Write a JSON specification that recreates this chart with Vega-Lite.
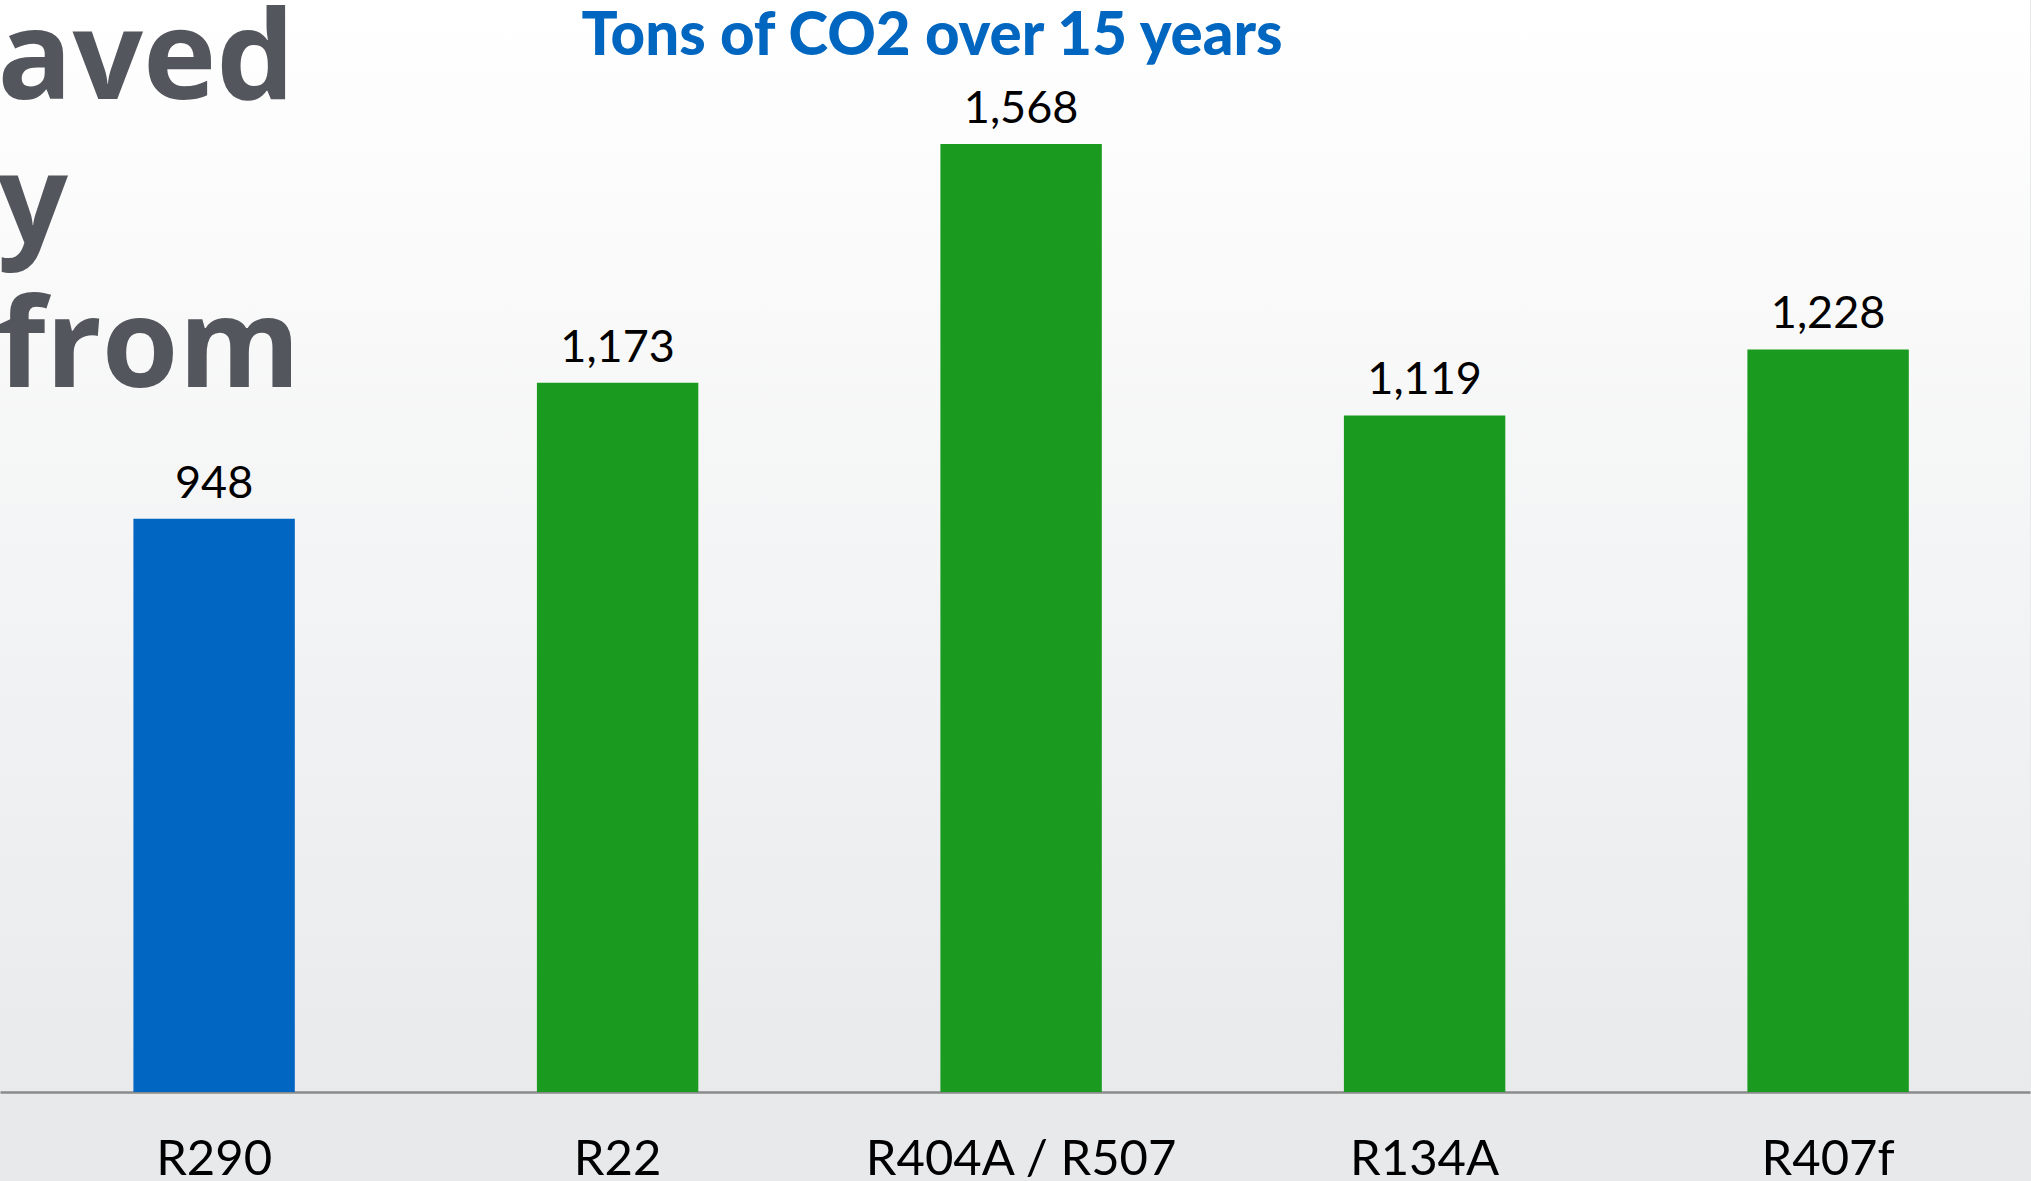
{
  "$schema": "https://vega.github.io/schema/vega-lite/v6.json",
  "autosize": "none",
  "width": 2030,
  "height": 1092,
  "padding": {"left": 0, "top": 0, "right": 1, "bottom": 89},
  "background": "#e8e9eb",
  "title": {
    "text": "Tons of CO2 over 15 years",
    "anchor": "middle",
    "frame": "group",
    "orient": "top",
    "offset": 0,
    "baseline": "alphabetic",
    "dx": -83,
    "dy": 116,
    "font": "Lato",
    "fontSize": 60,
    "fontWeight": 900,
    "color": "#0066c0"
  },
  "data": {
    "values": [
      {"refrigerant": "R290", "tons": 948},
      {"refrigerant": "R22", "tons": 1173},
      {"refrigerant": "R404A / R507", "tons": 1568},
      {"refrigerant": "R134A", "tons": 1119},
      {"refrigerant": "R407f", "tons": 1228}
    ]
  },
  "encoding": {
    "x": {
      "field": "refrigerant",
      "type": "nominal",
      "sort": null,
      "scale": {"paddingInner": 0.6, "paddingOuter": 0.3155, "align": 0.524},
      "axis": {
        "title": null,
        "ticks": false,
        "labelAngle": 0,
        "labelLimit": 0,
        "labelPadding": 43,
        "labelFont": "Lato",
        "labelFontSize": 49,
        "labelColor": "#000000",
        "domainColor": "#8a8a8a",
        "domainWidth": 2.5
      }
    },
    "y": {
      "field": "tons",
      "type": "quantitative",
      "scale": {"domain": [0, 1806], "nice": false, "zero": true},
      "axis": {
        "domain": false,
        "ticks": false,
        "labels": false,
        "grid": false,
        "title": ["aved", "y", "from"],
        "titleAngle": 0,
        "titleAlign": "left",
        "titleBaseline": "alphabetic",
        "titleX": -3,
        "titleY": 98,
        "titleFont": "Open Sans",
        "titleFontSize": 124,
        "titleFontWeight": 700,
        "titleLineHeight": 144,
        "titleColor": "#53565c"
      }
    }
  },
  "layer": [
    {
      "mark": {"type": "bar"},
      "encoding": {
        "color": {
          "condition": {"test": "datum.refrigerant === 'R290'", "value": "#0066c2"},
          "value": "#1a9a1e"
        }
      }
    },
    {
      "mark": {
        "type": "text",
        "baseline": "alphabetic",
        "dy": -21,
        "font": "Lato",
        "fontSize": 45,
        "color": "#000000"
      },
      "encoding": {
        "text": {"field": "tons", "type": "quantitative", "format": ",d"}
      }
    }
  ],
  "config": {
    "view": {
      "stroke": null,
      "fill": {
        "gradient": "linear",
        "x1": 0, "y1": 0, "x2": 0, "y2": 1,
        "stops": [
          {"offset": 0, "color": "#ffffff"},
          {"offset": 1, "color": "#e9eaec"}
        ]
      }
    }
  }
}
